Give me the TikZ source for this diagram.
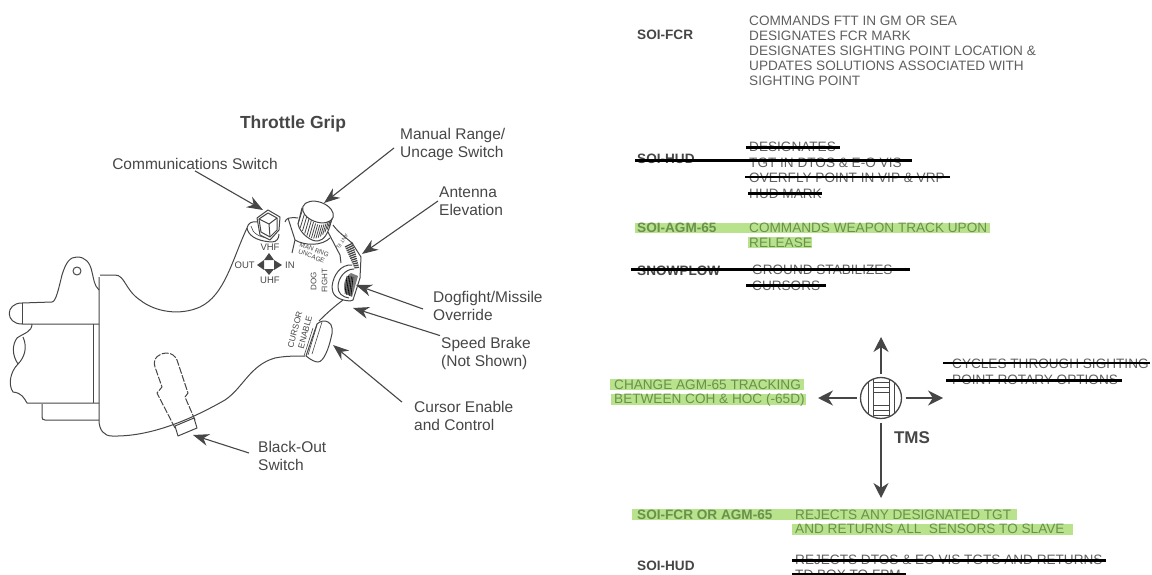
\documentclass[tikz,border=0pt]{standalone}
\usepackage{fontspec}
\setmainfont{Liberation Sans}
\usepackage{xcolor}
\definecolor{inkgray}{RGB}{70,70,70}
\definecolor{textgray}{RGB}{95,95,95}
\definecolor{barlime}{RGB}{184,226,140}
\definecolor{barink}{RGB}{105,145,75}
\usetikzlibrary{arrows.meta}
\tikzset{
  lbl/.style={font=\fontsize{15.5}{18}\selectfont,text=inkgray,align=left,anchor=west,inner sep=1pt},
  row/.style={font=\fontsize{13.6}{15.3}\selectfont,text=textgray,anchor=west,inner sep=0pt},
  soi/.style={font=\fontsize{13.6}{15}\selectfont\bfseries,text=inkgray,anchor=west,inner sep=0pt},
  callout/.style={-{Stealth[length=16pt,width=12pt]},line width=1.1pt,draw=inkgray},
  tmsarrow/.style={-{Stealth[length=15pt,width=15pt]},line width=1.4pt,draw=inkgray},
  outline/.style={draw=inkgray,line width=1pt,line join=round},
  thinline/.style={draw=inkgray,line width=.6pt},
  strike/.style={line width=2.8pt,black},
  bar/.style={fill=barlime,draw=none},
  tiny/.style={font=\fontsize{9.5}{10}\selectfont,text=inkgray,inner sep=0pt,align=center}
}
\begin{document}
\begin{tikzpicture}[x=1pt,y=-1pt,>=Stealth]
\useasboundingbox (0,0) rectangle (1152,575);
% green bars first
\fill[bar] (635,223) rectangle (990,233);
\fill[bar] (748,237) rectangle (812,248);
\fill[bar] (610,379) rectangle (804,390);
\fill[bar] (611,394) rectangle (806,405);
\fill[bar] (632,509) rectangle (1017,520);
\fill[bar] (792,524) rectangle (1073,535);
% grip outline
\draw[outline] (99,277) -- (99,420) .. controls (99,430) and (104,436) .. (112,436)
  .. controls (150,437) and (190,420) .. (225,400) .. controls (243,388) and (250,365) .. (275,358)
  .. controls (285,356) and (295,356) .. (305,356);
\draw[outline] (99,290) .. controls (94,285) and (94,280) .. (92,272) .. controls (90,262) and (85,257) .. (77,257)
  .. controls (70,257) and (66,262) .. (62,275) .. controls (59,287) and (56,302) .. (52,302) -- (22,303)
  .. controls (5,303) and (5,324) .. (22,324) -- (99,324);
\draw[outline] (22,303) -- (22,324);
\draw[outline] (100,275) -- (115,275) .. controls (125,275) and (125,290) .. (140,300)
  .. controls (155,312) and (180,316) .. (200,307) .. controls (225,295) and (232,260) .. (247,228);
\draw[outline] (93,324) -- (93,403);
\draw[outline] (32,324) .. controls (32,332) and (24,333) .. (17,338) .. controls (12,345) and (12,355) .. (18,364)
  .. controls (10,372) and (8,385) .. (13,392) .. controls (22,393) and (24,398) .. (27,403) -- (99,403);
\draw[outline] (23,337) .. controls (28,348) and (24,358) .. (18,364);
\draw[outline] (42,404) -- (42,417) .. controls (42,419) and (43,420) .. (45,420) -- (99,420);
\node[circle,outline,minimum size=8pt,inner sep=0pt] (hole) at (77,271) {};
% black-out switch
\draw[outline,dash pattern=on 7pt off 1.5pt] (175,428) -- (157,393) -- (162,387) -- (155,367)
  .. controls (152,358) and (160,353) .. (166,353) .. controls (172,353) and (175,356) .. (177,360)
  -- (188,393) -- (185,397) -- (195,420);
\draw[outline,fill=white] (175,426) -- (194,418) -- (197,428) -- (178,436) -- cycle;
% comm switch
\draw[outline] (247,228) .. controls (248,234) and (254,241) .. (272,242) .. controls (277,242) and (279,238) .. (279,234);
\draw[outline] (247,228) .. controls (248,223) and (252,221) .. (257,222);
\draw[thinline] (251,226) .. controls (252,233) and (260,238) .. (270,238);
\draw[outline,fill=white] (257,218) -- (268,210) -- (280,217) -- (279,230) -- (270,240) -- (260,235) -- cycle;
\draw[outline] (259,219) -- (268,213) -- (277,218) -- (269,224) -- cycle;
\draw[outline] (259,219) -- (261,232) -- (270,237) -- (277,230) -- (277,218);
\draw[outline] (269,224) -- (270,237);
\node[tiny] (vhf) at (270,247) {VHF};
\node[tiny] (uhf) at (270,280) {UHF};
\node[tiny,anchor=east] (out) at (255,265) {OUT};
\node[tiny,anchor=west] (in) at (285,265) {IN};
\fill[inkgray] (269,253) -- (274,260) -- (264,260) -- cycle;
\fill[inkgray] (269,275) -- (274,269) -- (264,269) -- cycle;
\fill[inkgray] (257,265) -- (264,260) -- (264,270) -- cycle;
\fill[inkgray] (282,265) -- (274,260) -- (274,270) -- cycle;
% knob
\draw[outline] (285,222) .. controls (286,218) and (290,217) .. (298,218);
\draw[outline] (288,218) -- (295,240) -- (292,253);
\draw[outline] (295,240) .. controls (305,246) and (322,246) .. (330,238);
\draw[outline] (333,225) .. controls (338,232) and (344,236) .. (352,243);
\draw[outline] (328,232) -- (340,255) -- (341,263);
\draw[outline,fill=white] (302,208) -- (298,224) .. controls (300,234) and (312,242) .. (318,241)
  .. controls (324,240) and (328,234) .. (331,222) -- (333,216) -- cycle;
\foreach \s in {0,.07,...,1}{
  \draw[thinline,line width=.8pt] (303+30*\s,{208+48*\s*(1-\s)+9*\s}) -- (298+32*\s,{224+56*\s*(1-\s)+\s});
}
\draw[outline,fill=white,rotate around={-20:(318,212)}] (318,212) ellipse (16pt and 10pt);
\node[tiny,rotate=-22,font=\fontsize{6.5}{7}\selectfont] (mrng) at (313,253) {MAN RNG\\UNCAGE};
\node[tiny,rotate=90,font=\fontsize{8}{11}\selectfont] (dog) at (319,281) {DOG\\FIGHT};
\node[tiny,rotate=-125,font=\fontsize{5}{5}\selectfont] (ant) at (342,242) {ANT EL};
% antenna wheel and override switch
\draw[outline] (352,243) -- (361,257) -- (360,278);
\foreach \k in {0,...,11}{
  \draw[inkgray,line width=1.3pt] (345+.85*\k,247+1.9*\k) -- (353+.55*\k,243+2.2*\k);
}
\draw[outline] (352,265) .. controls (341,264) and (333,275) .. (332,287) .. controls (332,294) and (336,300) .. (350,301);
\draw[outline] (354,269) .. controls (345,269) and (338,278) .. (338,287) .. controls (338,293) and (342,297) .. (349,298);
\draw[outline] (350,301) -- (353,300) -- (360,278);
\fill[inkgray!70] (351,273) .. controls (344,277) and (342,288) .. (346,294) -- (352,297) -- (358,276) -- cycle;
\foreach \k in {0,...,4}{
  \draw[thinline,black] (347+1.5*\k,276+.2*\k) -- (345+1.5*\k,294+.5*\k);
}
\draw[outline] (343,300) .. controls (335,306) and (328,312) .. (319,321);
% cursor enable
\draw[outline,fill=white] (317,324) .. controls (320,321) and (325,320) .. (328,322) .. controls (333,324) and (333,332) .. (331,338)
  .. controls (329,347) and (324,362) .. (318,362) .. controls (315,362) and (311,360) .. (306,356) -- cycle;
\draw[thinline] (322,322) -- (312,354);
\draw[thinline] (313,328) -- (304,356);
\draw[thinline] (317,325) -- (308,355);
\node[tiny,rotate=75,font=\fontsize{8.5}{10.5}\selectfont] (cursorlbl) at (300,331) {CURSOR\\ENABLE};
% label nodes
\node[font=\fontsize{17.5}{18}\selectfont\bfseries,text=inkgray] (title) at (293,124) {Throttle Grip};
\node[lbl,anchor=center] (comm) at (195,164) {Communications Switch};
\node[lbl] (manual) at (399,144) {Manual Range/\\Uncage Switch};
\node[lbl] (antenna) at (438,201) {Antenna\\Elevation};
\node[lbl] (dogfight) at (432,306) {Dogfight/Missile\\Override};
\node[lbl] (speed) at (440,353) {Speed Brake\\(Not Shown)};
\node[lbl] (cursor) at (413,416) {Cursor Enable\\and Control};
\node[lbl] (blackout) at (257,456) {Black-Out\\Switch};
\coordinate (commtip) at (263,210);
\coordinate (manualtip) at (324,203);
\coordinate (antennatip) at (362,254);
\coordinate (dogfighttip) at (356,285);
\coordinate (speedtip) at (353,308);
\coordinate (cursortip) at (333,345);
\coordinate (blackouttip) at (193,435);
\draw[callout] (comm.south) -- (commtip);
\draw[callout] ([xshift=-5pt,yshift=-4pt]manual.west) -- (manualtip);
\draw[callout] (antenna.west) -- (antennatip);
\draw[callout] ([xshift=-9pt,yshift=-3pt]dogfight.west) -- (dogfighttip);
\draw[callout] (speed.north west) -- (speedtip);
\draw[callout] ([xshift=-11pt,yshift=-2pt]cursor.north west) -- (cursortip);
\draw[callout] ([xshift=-8pt,yshift=3pt]blackout.west) -- (blackouttip);
% right column upper
\node[soi] (fcr) at (637,35) {SOI-FCR};
\node[row] (r1) at (749,21) {COMMANDS FTT IN GM OR SEA};
\node[row] (r2) at (749,35.5) {DESIGNATES FCR MARK};
\node[row] (r3) at (749,51) {DESIGNATES SIGHTING POINT LOCATION \&};
\node[row] (r4) at (749,66) {UPDATES SOLUTIONS ASSOCIATED WITH};
\node[row] (r5) at (749,81) {SIGHTING POINT};
\node[soi] (hud) at (637,159) {SOI-HUD};
\node[row] (h1) at (749,146.5) {DESIGNATES};
\node[row] (h2) at (749,163) {TGT IN DTOS \& E-O VIS};
\node[row] (h3) at (749,178) {OVERFLY POINT IN VIP \& VRP};
\node[row] (h4) at (749,193.5) {HUD MARK};
\node[soi,text=barink] (agm) at (637,228) {SOI-AGM-65};
\node[row,text=barink] (a1) at (749,228) {COMMANDS WEAPON TRACK UPON};
\node[row,text=barink] (a2) at (749,243) {RELEASE};
\node[soi] (snow) at (637,271) {SNOWPLOW};
\node[row] (s1) at (752,270) {GROUND STABILIZES};
\node[row] (s2) at (752,285.5) {CURSORS};
\draw[strike] (746,147.3) -- (840,147.3);
\draw[strike] (635,160.7) -- (912,160.7);
\draw[strike] (745,177) -- (950,177);
\draw[strike] (748,193.3) -- (822,193.3);
\draw[strike] (631,269.5) -- (910,269.5);
\draw[strike] (746,285.5) -- (826,285.5);
% TMS
\node[circle,draw=inkgray,line width=1.3pt,minimum size=41pt,inner sep=0pt,outer sep=4pt] (tmsgrip) at (881,398) {};
\draw[thinline,line width=1pt] (868,382) -- (868,414) (873,379) -- (873,417) (889,379) -- (889,417) (894,382) -- (894,414);
\foreach \dy in {-15,-10,-5,8,13,18}{
  \draw[thinline,line width=.9pt] (873,397+\dy) -- (889,397+\dy);
}
\coordinate (tmsup) at (881,337);
\coordinate (tmsdown) at (881,498);
\coordinate (tmsleft) at (818,398);
\coordinate (tmsright) at (943,398);
\draw[tmsarrow] (tmsgrip.north) -- (tmsup);
\draw[tmsarrow] (tmsgrip.south) -- (tmsdown);
\draw[tmsarrow] (tmsgrip.west) -- (tmsleft);
\draw[tmsarrow] (tmsgrip.east) -- (tmsright);
\node[font=\fontsize{17}{18}\selectfont\bfseries,text=inkgray] (tmslbl) at (912,438) {TMS};
\node[row,text=barink] (c1) at (614,385) {CHANGE AGM-65 TRACKING};
\node[row,text=barink] (c2) at (614,400) {BETWEEN COH \& HOC (-65D)};
\node[row] (y1) at (952,364) {CYCLES THROUGH SIGHTING};
\node[row] (y2) at (952,379.5) {POINT ROTARY OPTIONS};
\draw[strike] (943,363) -- (1150,363);
\draw[strike] (946,380.7) -- (1122,380.7);
% right column lower
\node[soi,text=barink] (fcragm) at (637,515) {SOI-FCR OR AGM-65};
\node[row,text=barink] (b1) at (795,515) {REJECTS ANY DESIGNATED TGT};
\node[row,text=barink] (b2) at (795,529) {AND RETURNS ALL\ \ SENSORS TO SLAVE};
\node[soi] (hud2) at (637,566) {SOI-HUD};
\node[row] (d1) at (795,560) {REJECTS DTOS \& EO VIS TGTS AND RETURNS};
\node[row] (d2) at (795,575) {TD BOX TO FPM};
\draw[strike] (792,560.7) -- (1106,560.7);
\draw[strike] (792,574) -- (906,574);
\end{tikzpicture}
\end{document}
